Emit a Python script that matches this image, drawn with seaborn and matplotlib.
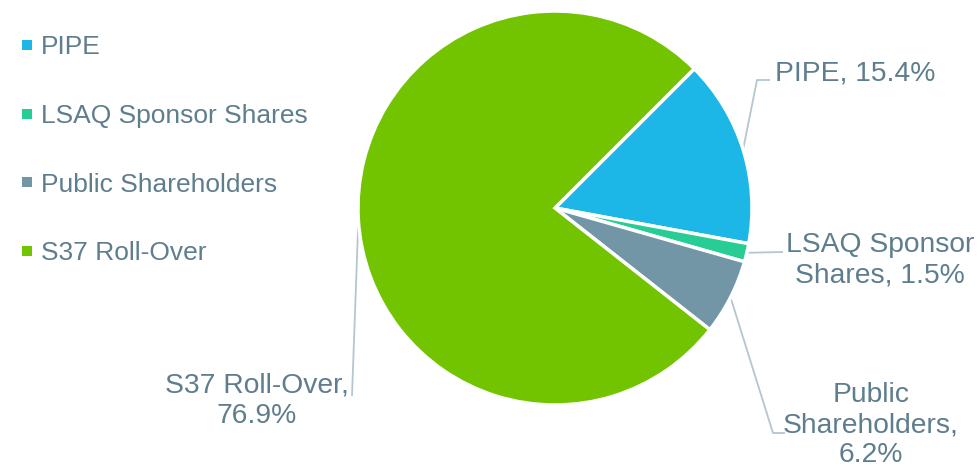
import matplotlib
matplotlib.use("Agg")
import matplotlib.pyplot as plt
from matplotlib.lines import Line2D
import numpy as np
import seaborn as sns

# ---- data ----
categories = ["PIPE", "LSAQ Sponsor Shares", "Public Shareholders", "S37 Roll-Over"]
shares = [15.4, 1.5, 6.2, 76.9]
slice_labels = ["PIPE, 15.4%", "LSAQ Sponsor\nShares, 1.5%", "Public\nShareholders,\n6.2%", "S37 Roll-Over,\n76.9%"]
colors = ["#1CB7E6", "#27CD95", "#7396A6", "#72C400"]

sns.set_theme(style="white")
plt.rcParams["font.family"] = ["Liberation Sans", "DejaVu Sans"]
text_color = "#5F7E8D"
line_color = "#B4C6CF"

W, H = 979, 467
fig = plt.figure(figsize=(W / 100, H / 100), dpi=100)
ax = fig.add_axes([0, 0, 1, 1])

cx, cy, r = 555, H - 208, 197
start = 45
wedges, _ = ax.pie(shares, colors=colors, startangle=start, counterclock=False,
                   center=(cx, cy), radius=r, frame=True,
                   wedgeprops=dict(edgecolor="white", linewidth=2.5))
ax.set_xlim(0, W)
ax.set_ylim(0, H)
ax.set_aspect("equal")
ax.axis("off")

# leader lines and labels
label_cfg = [
    # (elbow point, end point, text pos, ha)
    ((757, 80), (770, 80), (775, 73), "left"),
    ((783, 252), (783, 252), (880, 260), "center"),
    ((773, 433), (785, 433), (871, 425), "center"),
    ((352, 396), (352, 396), (257, 401), "center"),
]
cum = np.cumsum([0] + shares)
for i, (lab, (elb, end, tp, ha)) in enumerate(zip(slice_labels, label_cfg)):
    mid = start - (cum[i] + shares[i] / 2) / 100 * 360
    th = np.deg2rad(mid)
    px, py = cx + r * np.cos(th), cy + r * np.sin(th)
    ax.plot([px, elb[0], end[0]], [py, H - elb[1], H - end[1]],
            color=line_color, lw=1.3, solid_capstyle="butt", zorder=0.5)
    ax.text(tp[0], H - tp[1], lab, ha=ha, va="center", fontsize=20.3,
            color=text_color, linespacing=1.2, multialignment="center")

handles = [Line2D([0], [0], marker="s", linestyle="", markersize=6.5, markeredgewidth=0,
                  markerfacecolor=c) for c in colors]
leg = ax.legend(handles, categories, loc="upper left", bbox_to_anchor=(-0.0045, 0.975),
                frameon=False, fontsize=19, labelspacing=1.69,
                handlelength=0.6, handletextpad=0.21, labelcolor=text_color)

fig.savefig("out.png", dpi=100)
